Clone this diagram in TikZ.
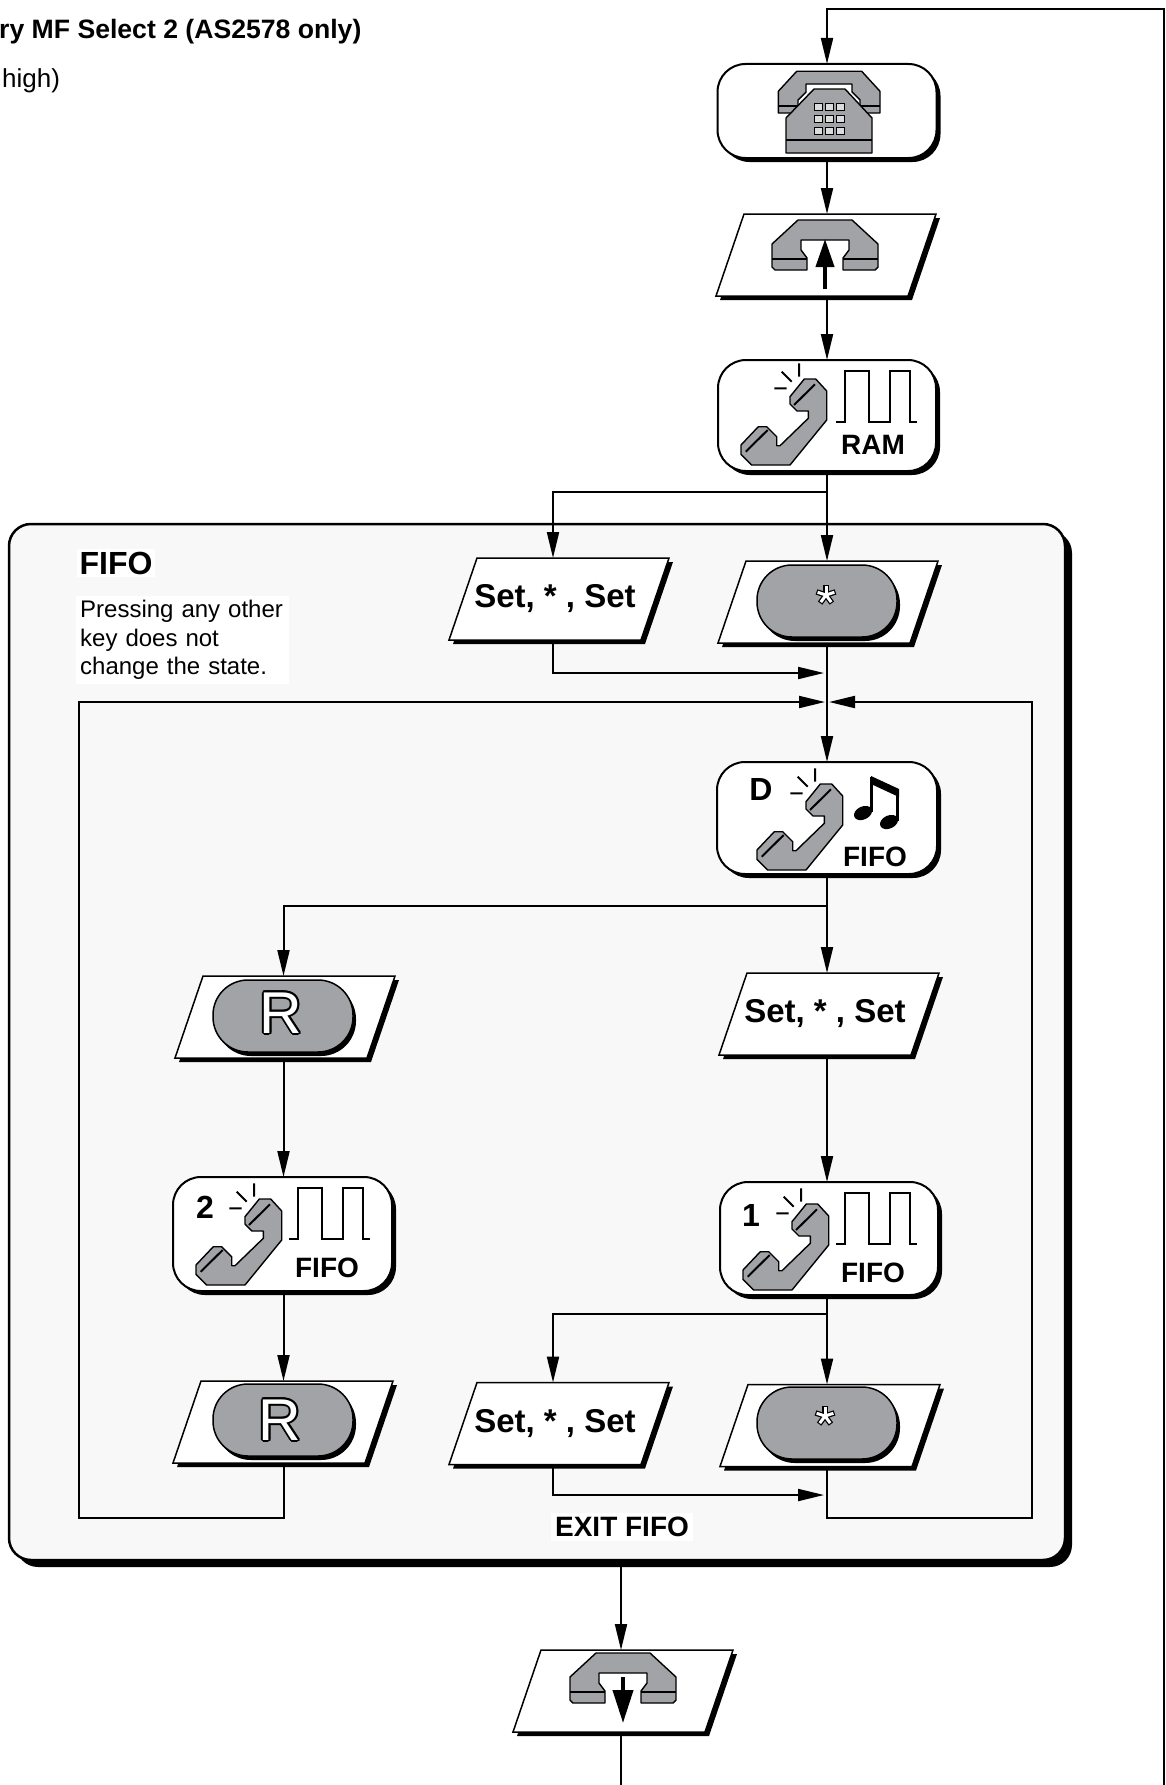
\documentclass[tikz,border=0pt]{standalone}
\usepackage{fontspec}
\setmainfont{Liberation Sans}
\usetikzlibrary{arrows.meta,calc}
\pgfdeclarelayer{bottom}
\pgfdeclarelayer{background}
\pgfsetlayers{bottom,background,main}
\definecolor{pgray}{RGB}{162,163,166}
\definecolor{kgray}{RGB}{220,220,220}
\definecolor{boxbg}{RGB}{248,248,248}
\tikzset{
  ghost/.style={rectangle,draw=none,inner sep=0pt,outer sep=0pt},
  conn/.style={line width=2pt},
  arr/.style={conn,-{Triangle[length=26pt,width=12pt]}},
  lbl/.style={font=\fontsize{28}{30}\selectfont\bfseries,inner sep=0pt},
  digit/.style={font=\fontsize{32}{34}\selectfont\bfseries,inner sep=0pt},
  settxt/.style={font=\fontsize{33}{35}\selectfont\bfseries},
  hsfill/.style={fill=pgray,draw=black,line width=1.4pt,line join=round},
  ringmark/.style={line width=2pt},
  pillbtn/.style={draw=black,line width=1.5pt,fill=pgray,rounded corners=35pt,minimum width=140pt,minimum height=72pt,inner sep=0pt},
}
% rounded state box: name, cx, cy, w, h
\newcommand\rbox[5]{%
  \node[ghost,minimum width=#4pt,minimum height=#5pt] (#1) at (#2,#3) {};
  \begin{pgfonlayer}{background}
    \fill[rounded corners=28pt] ([shift={(4,4)}]#1.north west) rectangle ([shift={(4,4)}]#1.south east);
    \filldraw[fill=white,line width=2pt,rounded corners=28pt] (#1.north west) rectangle (#1.south east);
  \end{pgfonlayer}}
% parallelogram input: name, cx, cy, text
\newcommand\para[4]{%
  \node[ghost,minimum width=192pt,minimum height=82pt,settxt] (#1) at (#2,#3) {#4};
  \begin{pgfonlayer}{background}
    \fill ([shift={(18,4)}]#1.north west) -- ([shift={(18,4)}]#1.north east) -- ([shift={(-10,4)}]#1.south east) -- ([shift={(-10,4)}]#1.south west) -- cycle;
    \filldraw[fill=white,line width=1.5pt] ([xshift=14pt]#1.north west) -- ([xshift=14pt]#1.north east) -- ([xshift=-14pt]#1.south east) -- ([xshift=-14pt]#1.south west) -- cycle;
  \end{pgfonlayer}}
% grey key button: name, cx, cy
\newcommand\pill[3]{%
  \fill[rounded corners=35pt] (#2-67,#3-32) rectangle (#2+73,#3+40);
  \node[pillbtn] (#1) at (#2,#3) {};}
% outlined white letter
\newcommand\olR[3]{%
  \foreach \a in {0,30,...,330}{\node[font=\fontsize{59}{61}\selectfont,text=black,inner sep=0pt] at ($(#1,#2)+(\a:1.7)$) {#3};}
  \node[font=\fontsize{59}{61}\selectfont,text=white,inner sep=0pt] at (#1,#2) {#3};}
% outlined asterisk
\newcommand\astk[2]{%
  \foreach \a in {-90,-18,-162,54,126}{\draw[line width=5.5pt] (#1,#2) -- ++(\a:10);}
  \foreach \a in {-90,-18,-162,54,126}{\draw[white,line width=3pt] (#1,#2) -- ++(\a:8.8);}}
% ringing handset, origin = top-left reference
\newcommand\ringphone[2]{%
  \begin{scope}[shift={(#1,#2)}]
    \filldraw[hsfill] (84.3,19) -- (95.7,19) -- (106.7,31) -- (106.7,60) -- (70,105) -- (31.7,105) -- (21,94.3) -- (21,85) -- (38.3,66.7) -- (46.7,66.7) -- (56.7,76.7) -- (56.7,85.7) -- (60,85.7) -- (88.3,58.3) -- (88.3,51) -- (77,51) -- (70,44) -- (70,36.7) -- cycle;
    \draw[line width=2pt] (74,45) -- (95,24.3) (25.7,91.7) -- (47.7,70);
    \draw[ringmark] (54.3,28.3) -- (66.7,28.3) (61.7,11.7) -- (71.7,21.7) (79,3.3) -- (79,16.7);
  \end{scope}}
% square wave
\newcommand\sqwave[2]{%
  \begin{scope}[shift={(#1,#2)}]
    \draw[line width=2pt] (116,62) -- (125,62) -- (125,11) -- (149,11) -- (149,62) -- (170,62) -- (170,11) -- (190,11) -- (190,62) -- (197,62);
  \end{scope}}
% hook handset: cx, top
\newcommand\hookset[2]{%
  \begin{scope}[shift={(#1,#2)}]
    \filldraw[hsfill] (-27,0) -- (27,0) -- (53,24) -- (53,47) -- (50,50) -- (18,50) -- (18,38) -- (24,30) -- (24,20) -- (-24,20) -- (-24,30) -- (-18,38) -- (-18,50) -- (-50,50) -- (-53,47) -- (-53,24) -- cycle;
    \draw[line width=2pt] (-53,39) -- (-18,39) (18,39) -- (53,39);
  \end{scope}}

\begin{document}
\begin{tikzpicture}[x=1pt,y=-1pt]
\useasboundingbox (0,0) rectangle (1166,1785);

% columns
\coordinate (cM) at (827,0);
\coordinate (cL) at (283.5,0);
\coordinate (cS) at (553,0);
\coordinate (cB) at (621,0);

% heading (cut at the left edge)
\node[anchor=base west,font=\fontsize{26.6}{28}\selectfont\bfseries,inner sep=0pt] (title) at (-1,39) {ry MF Select 2 (AS2578 only)};
\node[anchor=base west,font=\fontsize{26}{28}\selectfont,inner sep=0pt] (subtitle) at (2,87) {high)};

% FIFO region
\node[ghost,minimum width=1056pt,minimum height=1036pt] (fifo) at (537,1042) {};
\begin{pgfonlayer}{bottom}
  \fill[rounded corners=22pt] ([shift={(7,7)}]fifo.north west) rectangle ([shift={(7,7)}]fifo.south east);
  \filldraw[fill=boxbg,line width=2.5pt,rounded corners=22pt] (fifo.north west) rectangle (fifo.south east);
\end{pgfonlayer}
\node[fill=white,font=\fontsize{32}{34}\selectfont\bfseries,inner sep=3pt] (fifolbl) at (116,563) {FIFO};
\node[fill=white,anchor=north west,align=left,text width=205pt,inner xsep=4pt,inner ysep=4pt,font=\fontsize{24}{28.5}\selectfont] (note) at (76,596) {Pressing any other\\key does not\\change the state.};
\node[fill=white,font=\fontsize{28}{30}\selectfont\bfseries,inner sep=4pt] (exitlbl) at (622,1527) {EXIT FIFO};

% --- states and inputs ---
\rbox{box0}{827}{111}{219}{94}
\para{hookup}{826}{255}{}
\rbox{ram}{827}{415.5}{218}{111}
\para{setA}{559}{599}{\hspace*{-8pt}Set, * , Set}
\para{starA}{828}{602}{}
\rbox{boxD}{827}{818}{220}{112}
\para{rA}{285}{1017}{}
\para{setB}{829}{1014}{\hspace*{-8pt}Set, * , Set}
\rbox{boxTwo}{282.5}{1234}{219}{114}
\rbox{boxOne}{829}{1238.5}{218}{113}
\para{rB}{283}{1422}{}
\para{setC}{559}{1423.5}{\hspace*{-8pt}Set, * , Set}
\para{starB}{830}{1425.5}{}
\para{hookdn}{623}{1691}{}

% desk phone
\filldraw[hsfill] (796.7,71.3) -- (861.7,71.3) -- (880,91.3) -- (880,113) -- (860,113) -- (860,100) -- (852,92) -- (852,84) -- (806,84) -- (806,92) -- (798,100) -- (798,113) -- (778.3,113) -- (778.3,91.3) -- cycle;
\draw[line width=2pt] (778.3,106) -- (798,106) (860,106) -- (880,106);
\filldraw[hsfill] (814,89) -- (845,89) -- (872,118) -- (872,153) -- (786,153) -- (786,118) -- cycle;
\draw[line width=2.5pt] (786,140) -- (872,140);
\foreach \i in {0,1,2}{\foreach \j in {0,1,2}{\filldraw[fill=kgray,line width=1pt] (814.5+11.2*\i,103+12*\j) rectangle ++(7.5,7.5);}}

% hook (off) with arrow up
\hookset{825}{220}
\draw[line width=4pt,-{Triangle[length=28pt,width=18pt]}] (825,289) -- (825,239);
% hook (on) with arrow down
\hookset{623}{1653}
\draw[line width=4pt,-{Triangle[length=33pt,width=20pt]}] (623,1677) -- (623,1723);

% RAM state
\ringphone{720}{360}
\sqwave{720}{360}
\node[lbl] (ramlbl) at (873,445) {RAM};

% D state
\ringphone{736}{765}
\node[digit] (dlbl) at (761,789) {D};
\fill (871,776) -- (899,789) -- (899,797) -- (871,784) -- cycle;
\draw[line width=3pt] (871.5,777) -- (871.5,812) (897.5,790) -- (897.5,821);
\fill[rotate around={25:(863,813)}] (863,813) ellipse (9.5 and 6.5);
\fill[rotate around={25:(889,822)}] (889,822) ellipse (9.5 and 6.5);
\node[lbl] (dfifo) at (875,857) {FIFO};

% state 2
\ringphone{175}{1180}
\sqwave{173}{1177}
\node[digit] (twolbl) at (205,1207.5) {2};
\node[lbl] (twofifo) at (327,1268) {FIFO};

% state 1
\ringphone{722}{1185}
\sqwave{720}{1182}
\node[digit] (onelbl) at (751,1215) {1};
\node[lbl] (onefifo) at (873,1272.5) {FIFO};

% keys
\pill{btnA}{827}{601}
\astk{826}{595}
\pill{btnR1}{283}{1016}
\olR{281}{1013}{R}
\pill{btnR2}{283}{1420}
\olR{280}{1420}{R}
\pill{btnB}{827}{1423}
\astk{825}{1416}

% --- connectors ---
\coordinate (farT) at (1164,9);
\coordinate (farB) at (1164,1785);
\draw[arr] (farB) -- (farT) -| (box0.north -| cM);
\draw[arr] (box0.south -| cM) -- (hookup.north -| cM);
\draw[arr] (hookup.south -| cM) -- (ram.north -| cM);
\coordinate (br1) at (827,492);
\draw[conn] (ram.south -| cM) -- (br1);
\draw[arr] (br1) -| (setA.north -| cS);
\draw[arr] (br1) -- (starA.north -| cM);
\coordinate (mA) at (824,673);
\draw[arr] (setA.south -| cS) |- (mA);
\draw[arr] (starA.south -| cM) -- (boxD.north -| cM);
\coordinate (br2) at (827,906);
\draw[conn] (boxD.south -| cM) -- (br2);
\draw[arr] (br2) -| (rA.north -| cL);
\draw[arr] (br2) -- (setB.north -| cM);
\draw[arr] (rA.south -| cL) -- (boxTwo.north -| cL);
\draw[arr] (setB.south -| cM) -- (boxOne.north -| cM);
\draw[arr] (boxTwo.south -| cL) -- (rB.north -| cL);
\coordinate (br3) at (827,1314);
\draw[conn] (boxOne.south -| cM) -- (br3);
\draw[arr] (br3) -| (setC.north -| cS);
\draw[arr] (br3) -- (starB.north -| cM);
\coordinate (mC) at (824,1495);
\draw[arr] (setC.south -| cS) |- (mC);
\coordinate (lpRB) at (1032,1518);
\coordinate (lpRT) at (1032,702);
\coordinate (mR) at (829,702);
\draw[arr] (starB.south -| cM) |- (lpRB) -- (lpRT) -- (mR);
\coordinate (lpLB) at (78.5,1518);
\coordinate (lpLT) at (78.5,702);
\coordinate (mL) at (825,702);
\draw[arr] (rB.south -| cL) |- (lpLB) -- (lpLT) -- (mL);
\draw[arr] ($(fifo.south -| cB)+(0,7)$) -- (hookdn.north -| cB);
\coordinate (exitB) at (621,1785);
\draw[conn] (hookdn.south -| cB) -- (exitB);
\end{tikzpicture}
\end{document}
